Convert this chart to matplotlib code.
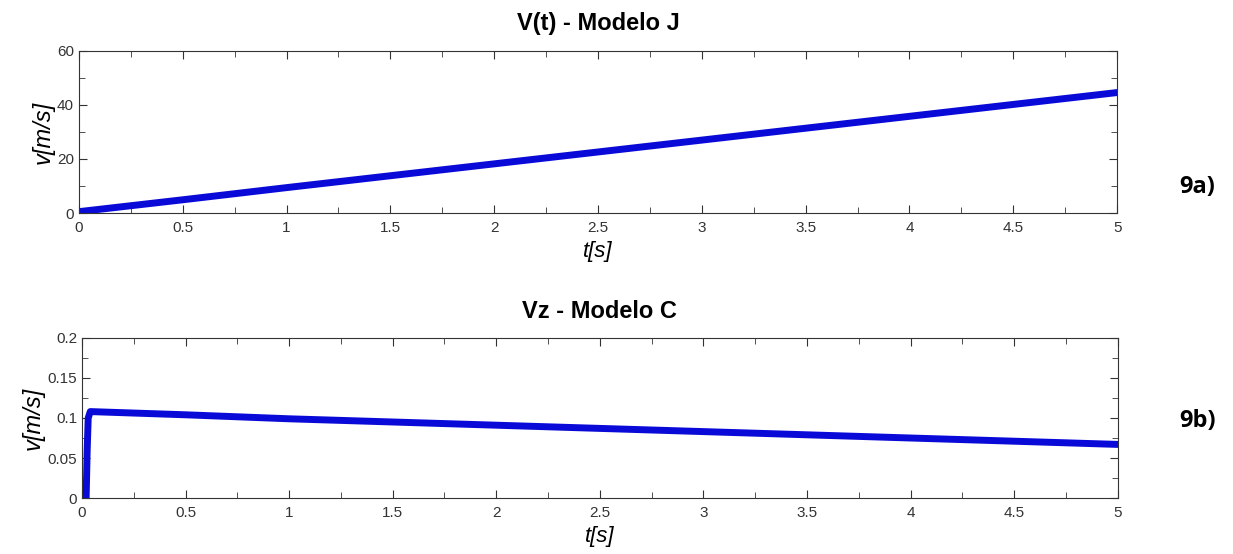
import numpy as np
import matplotlib
matplotlib.use('Agg')
import matplotlib.pyplot as plt
from matplotlib.ticker import MultipleLocator

plt.rcParams['font.family'] = ['Liberation Sans', 'DejaVu Sans']

# V(t) - Modelo J
t_j = [0, 0.5, 1, 1.5, 2, 2.5, 3, 3.5, 4, 4.5, 5]
v_j = [0.5, 4.9, 9.4, 13.8, 18.2, 22.6, 27.0, 31.4, 35.8, 40.2, 44.6]

# Vz - Modelo C
t_c = [0.02, 0.025, 0.03, 0.04, 0.5, 1, 1.5, 2, 2.5, 3, 3.5, 4, 4.5, 5]
v_c = [0.0, 0.06, 0.1, 0.108, 0.104, 0.099, 0.095, 0.091, 0.087, 0.083, 0.079, 0.075, 0.071, 0.067]

line_color = '#0a0ad8'

fig = plt.figure(figsize=(12.33, 5.54), dpi=100)
ax1 = fig.add_axes([0.064, 0.6155, 0.842, 0.2925])
ax2 = fig.add_axes([0.0665, 0.101, 0.840, 0.289])


def style(ax, ymax, ymaj, ymin):
    ax.set_xlim(0, 5)
    ax.set_ylim(0, ymax)
    ax.xaxis.set_major_locator(MultipleLocator(0.5))
    ax.xaxis.set_minor_locator(MultipleLocator(0.25))
    ax.yaxis.set_major_locator(MultipleLocator(ymaj))
    ax.yaxis.set_minor_locator(MultipleLocator(ymin))
    ax.tick_params(which='both', direction='in', top=True, right=True,
                   labelsize=11, labelcolor='#333333', color='#333333')
    ax.tick_params(axis='x', which='both', pad=6)
    ax.tick_params(which='major', length=6)
    ax.tick_params(which='minor', length=4)
    ax.set_xlabel('t[s]', fontsize=16, style='italic', labelpad=4)
    ax.set_ylabel('v[m/s]', fontsize=17, style='italic', labelpad=2)
    for s in ax.spines.values():
        s.set_color('#333333')


ax1.plot(t_j, v_j, color=line_color, linewidth=5)
style(ax1, 60, 20, 10)
ax1.set_title('V(t) - Modelo J', fontsize=17, fontweight='bold', pad=15)
ax1.xaxis.set_major_formatter(plt.FuncFormatter(lambda x, p: '%g' % x))

ax2.plot(t_c, v_c, color=line_color, linewidth=5)
style(ax2, 0.2, 0.05, 0.025)
ax2.set_title('Vz - Modelo C', fontsize=17, fontweight='bold', pad=14)
ax2.xaxis.set_major_formatter(plt.FuncFormatter(lambda x, p: '%g' % x))
ax2.yaxis.set_major_formatter(plt.FuncFormatter(lambda y, p: '%g' % round(y, 3)))

fig.text(0.971, 0.662, '9a)', fontsize=17, fontweight='bold', ha='center', va='center',
         family=['Open Sans', 'DejaVu Sans'])
fig.text(0.971, 0.24, '9b)', fontsize=17, fontweight='bold', ha='center', va='center',
         family=['Open Sans', 'DejaVu Sans'])

fig.savefig('out.png', dpi=100)
